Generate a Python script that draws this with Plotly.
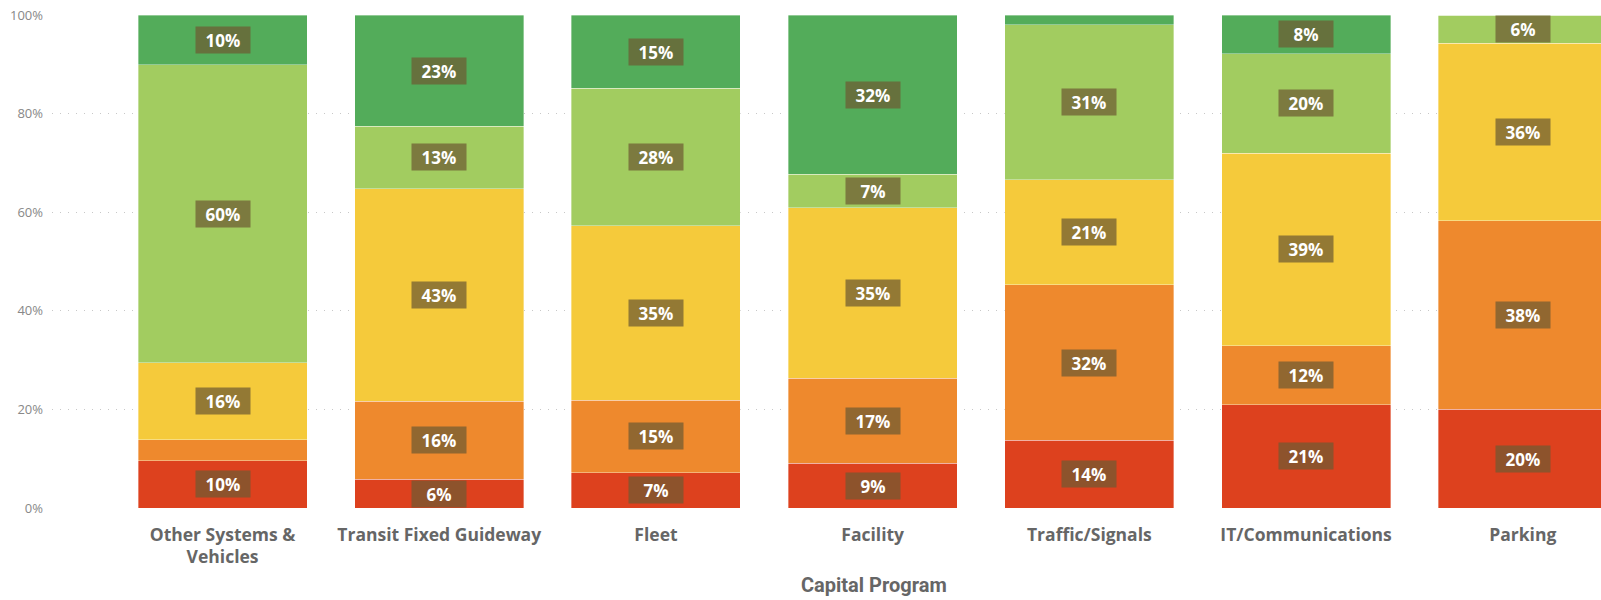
import plotly.graph_objects as go

# Capital programs (x categories)
programs = ["Other Systems &<br>Vehicles", "Transit Fixed Guideway", "Fleet", "Facility",
            "Traffic/Signals", "IT/Communications", "Parking"]

# share of each condition band per program, bottom (red) to top (green), in %
red = [9.6, 5.8, 7.2, 9.1, 13.7, 20.9, 20.0]
orange = [4.2, 15.9, 14.7, 17.2, 31.6, 12.0, 38.3]
yellow = [15.7, 43.1, 35.4, 34.6, 21.3, 39.1, 36.0]
light_green = [60.4, 12.6, 27.8, 6.8, 31.4, 20.1, 5.7]
green = [10.1, 22.6, 14.9, 32.3, 2.0, 7.9, 0.0]

y_ticks = [0, 20, 40, 60, 80, 100]
y_tick_text = ["0%", "20%", "40%", "60%", "80%", "100%"]

series = [
    ("red", red, "#DD411E"),
    ("orange", orange, "#EE892D"),
    ("yellow", yellow, "#F5CA3B"),
    ("light green", light_green, "#A2CC60"),
    ("green", green, "#53AC5A"),
]

fig = go.Figure()
for name, vals, col in series:
    fig.add_trace(go.Bar(
        x=list(range(len(programs))),
        y=vals,
        name=name,
        marker=dict(color=col, line=dict(color="rgba(255,255,255,0.6)", width=0.6)),
        hoverinfo="skip",
    ))

# data labels: dark translucent boxes at segment middles, hidden for tiny segments
base = [0.0] * len(programs)
for name, vals, col in series:
    for i, v in enumerate(vals):
        if v >= 5:
            fig.add_annotation(
                x=i, y=base[i] + v / 2,
                text="<b>%d%%</b>" % round(v),
                showarrow=False,
                font=dict(family="Open Sans", size=17, color="white"),
                bgcolor="rgba(110,90,50,0.72)",
                width=54, height=26, borderpad=0,
            )
        base[i] += v

fig.add_annotation(
    x=0.5307, y=0, xref="paper", yref="paper",
    yshift=-77, yanchor="middle",
    text="<b>Capital Program</b>", showarrow=False,
    font=dict(family="Roboto", size=20, color="#666666"),
)

fig.update_layout(
    barmode="stack",
    bargap=0.22,
    width=1601, height=600,
    margin=dict(l=52, r=0, t=15, b=92),
    plot_bgcolor="white",
    paper_bgcolor="white",
    showlegend=False,
    xaxis=dict(
        tickmode="array",
        tickvals=list(range(len(programs))),
        ticktext=programs,
        range=[-0.787, 6.361],
        showgrid=False, zeroline=False, showline=False,
        tickfont=dict(family="Open Sans", size=17.5, color="#666666", weight="bold"),
        ticklabelstandoff=14,
    ),
    yaxis=dict(
        range=[0, 100],
        tickmode="array",
        tickvals=y_ticks,
        ticktext=y_tick_text,
        showgrid=True, gridcolor="#C8C8C8", griddash="1px,7px", gridwidth=1,
        zeroline=False, showline=False,
        tickfont=dict(family="Open Sans", size=13, color="#888888"),
        ticklabelstandoff=8,
    ),
)

# the page is photographed from its top-left corner: drop the default body margin
fig.write_html("out.html", config={"displayModeBar": False},
               post_script="document.body.style.margin='0';")
